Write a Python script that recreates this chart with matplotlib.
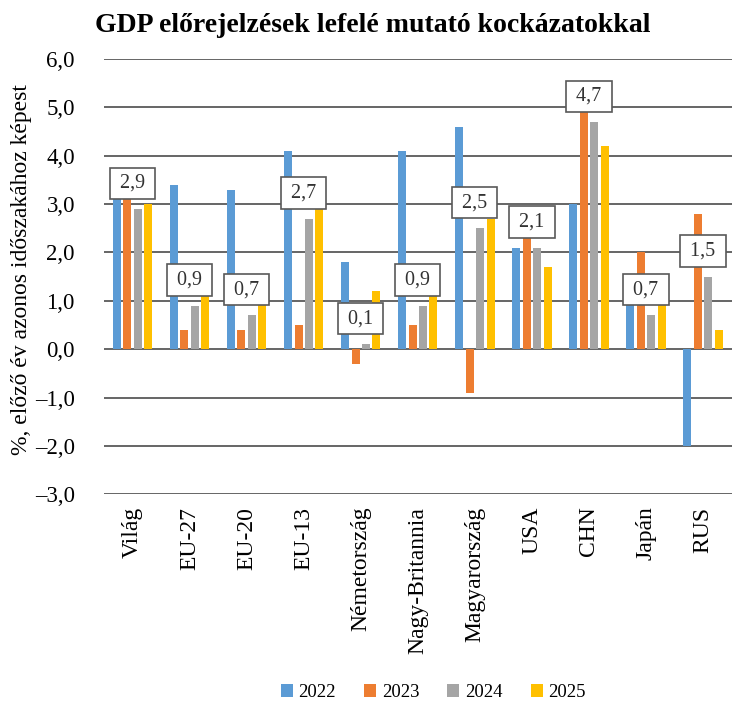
import matplotlib
matplotlib.use("Agg")
import matplotlib.pyplot as plt
import numpy as np

plt.rcParams['font.family'] = ['Liberation Serif', 'DejaVu Serif']

categories = ["Világ", "EU-27", "EU-20", "EU-13", "Németország", "Nagy-Britannia",
              "Magyarország", "USA", "CHN", "Japán", "RUS"]
years = ["2022", "2023", "2024", "2025"]
v2022 = [3.2, 3.4, 3.3, 4.1, 1.8, 4.1, 4.6, 2.1, 3.0, 1.0, -2.0]
v2023 = [3.1, 0.4, 0.4, 0.5, -0.3, 0.5, -0.9, 2.4, 5.1, 2.0, 2.8]
v2024 = [2.9, 0.9, 0.7, 2.7, 0.1, 0.9, 2.5, 2.1, 4.7, 0.7, 1.5]
v2025 = [3.0, 1.1, 1.0, 2.9, 1.2, 1.1, 2.7, 1.7, 4.2, 1.0, 0.4]
labels = ["2,9", "0,9", "0,7", "2,7", "0,1", "0,9", "2,5", "2,1", "4,7", "0,7", "1,5"]
colors = ["#5B9BD5", "#ED7D31", "#A5A5A5", "#FFC000"]

fig = plt.figure(figsize=(7.33, 7.03), dpi=100)
ax = fig.add_axes([0.142, 0.297, 0.856, 0.619])

x = np.arange(len(categories))
series = [v2022, v2023, v2024, v2025]
step = 0.183
width = 0.14
for i, (vals, c, yr) in enumerate(zip(series, colors, years)):
    ax.bar(x + (i - 1.5) * step, vals, width=width, color=c, label=yr, zorder=3)

for xi, v, lab in zip(x, v2024, labels):
    ax.text(xi, v + 0.53, "\u2009" + lab + "\u2009", ha='center', va='center', fontsize=14.5,
            color='#333333', zorder=5,
            bbox=dict(boxstyle='square,pad=0.3', facecolor='white', edgecolor='#595959', linewidth=1.2))

ax.set_xlim(-0.5, len(categories) - 0.5)
ax.set_ylim(-3, 6)
yt = np.arange(-3, 7, 1)
ax.set_yticks(yt)
ax.set_yticklabels([f"{t:.1f}".replace('.', ',').replace('-', '–') for t in yt], fontsize=16.5)
ax.yaxis.grid(True, color='#595959', linewidth=1.3, zorder=0)
ax.set_axisbelow(True)
for s in ax.spines.values():
    s.set_visible(False)
ax.tick_params(axis='y', length=0, pad=21)
ax.tick_params(axis='x', length=0, pad=9)
ax.set_xticks(x)
ax.set_xticklabels(categories, rotation=90, fontsize=17, va='top', ha='center')

fig.text(22 / 733, 0.617, "%, előző év azonos időszakához képest", rotation=90,
         ha='center', va='center', fontsize=17)
fig.text(0.509, 0.964, "GDP előrejelzések lefelé mutató kockázatokkal", ha='center', va='center',
         fontsize=20, fontweight='bold')

fig.legend(loc='center', bbox_to_anchor=(0.591, 0.015), ncol=4, frameon=False, fontsize=13.5,
           handlelength=0.64, handleheight=0.64, handletextpad=0.3, columnspacing=1.5)

fig.savefig("out.png", dpi=100)
